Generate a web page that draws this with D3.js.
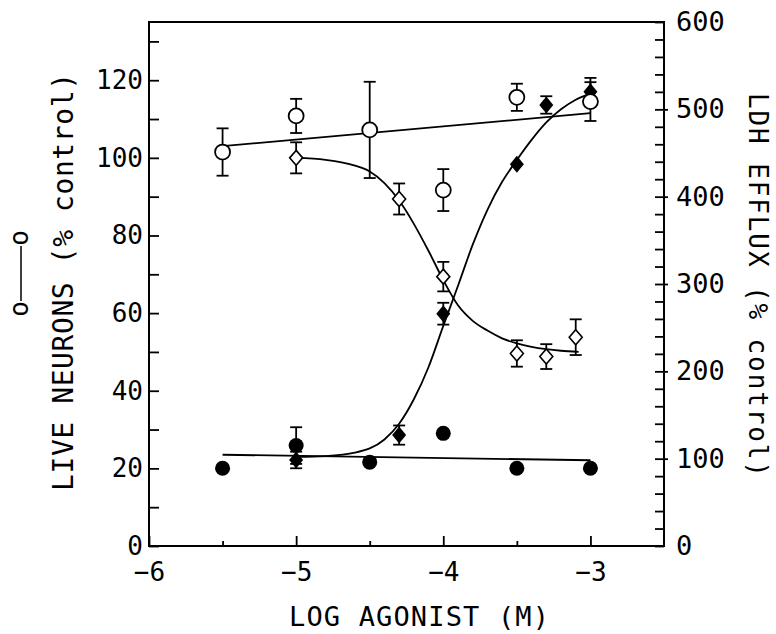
<!DOCTYPE html>
<html>
<head>
<meta charset="utf-8">
<script src="https://cdn.jsdelivr.net/npm/d3@7"></script>
<style>
  html, body { margin: 0; padding: 0; background: #fff; }
  svg { display: block; }
  text { font-family: "DejaVu Sans Mono", monospace; fill: #000; }
</style>
</head>
<body>
<svg id="chart" width="776" height="634"></svg>
<script>
// ---------- data ----------
const xTicksMajor = [-6, -5, -4, -3];
const xTicksMinor = [-5.5, -4.5, -3.5];
const leftTicks = [0, 20, 40, 60, 80, 100, 120];
const rightTicks = [0, 100, 200, 300, 400, 500, 600];

// Live neurons, open circles (left axis, % control)
const xOpenCircle = [-5.5, -5, -4.5, -4, -3.5, -3];
const liveNeurons = [101.5, 110.8, 107.2, 91.7, 115.6, 114.5];
const liveNeuronsErr = [6.1, 4.4, 12.4, 5.4, 3.5, 5];

// Live neurons, open diamonds (left axis, % control)
const xOpenDiamond = [-5, -4.3, -4, -3.5, -3.3, -3.1];
const neuronsDiamond = [100, 89.4, 69.4, 49.6, 48.8, 53.8];
const neuronsDiamondErr = [4, 4, 3.8, 3.4, 3.2, 4.6];

// LDH efflux, filled diamonds (right axis, % control)
const xFilledDiamond = [-5, -4.3, -4, -3.5, -3.3, -3];
const ldhDiamond = [98.5, 127, 266, 437, 505, 520];
const ldhDiamondErr = [9.5, 11, 12.5, 0, 10, 16];

// LDH efflux, filled circles (right axis, % control)
const xFilledCircle = [-5.5, -5, -4.5, -4, -3.5, -3];
const ldhCircle = [89, 115, 96, 129, 89, 89];
const ldhCircleErr = [0, 21, 0, 0, 0, 0];

// fitted lines
const openLineX = [-5.5, -3];
const openLineY = [103, 111.5];            // left axis
const filledLineX = [-5.5, -3];
const filledLineY = [104.5, 98.2];         // right axis

const risingX = [-5.0, -4.8, -4.6, -4.4, -4.3, -4.2, -4.1, -4.0, -3.9, -3.8, -3.7, -3.6, -3.5, -3.4, -3.3, -3.2, -3.1, -3.0];
const risingY = [102, 103, 107, 122, 140, 168, 205, 252, 298, 345, 385, 417, 442, 465, 485, 500, 511, 518]; // right axis
const fallingX = [-5.0, -4.8, -4.6, -4.5, -4.4, -4.3, -4.2, -4.1, -4.0, -3.9, -3.8, -3.7, -3.6, -3.5, -3.4, -3.3, -3.2, -3.08];
const fallingY = [100, 99.5, 98, 96.5, 93.5, 89, 83, 76, 68.5, 62, 58, 55.5, 53.5, 52.2, 51.3, 50.7, 50.3, 50]; // left axis

// ---------- layout ----------
const svg = d3.select("#chart");
const x = d3.scaleLinear().domain([-6, -2.5]).range([149, 664]);
const yL = d3.scaleLinear().domain([0, 135]).range([546, 22]);
const yR = d3.scaleLinear().domain([0, 600]).range([546, 22]);

const SW = 2;

// frame
svg.append("rect")
  .attr("x", x(-6)).attr("y", yL(135))
  .attr("width", x(-2.5) - x(-6)).attr("height", yL(0) - yL(135))
  .attr("fill", "none").attr("stroke", "#000").attr("stroke-width", SW);

function styleAxis(g, size) {
  g.select(".domain").remove();
  g.selectAll(".tick line").attr("stroke", "#000").attr("stroke-width", 1.8);
  g.selectAll(".tick text").attr("font-size", size).attr("fill", "#000")
    .attr("font-family", '"DejaVu Sans Mono", monospace');
}
const fmt = d => String(d).replace("-", "\u2212");

// left axis
const leftAll = d3.range(0, 131, 10);
svg.append("g").attr("transform", `translate(${x(-6)},0)`)
  .call(d3.axisLeft(yL).tickValues(leftAll).tickSize(-10).tickPadding(6)
        .tickFormat(d => leftTicks.includes(d) ? d : ""))
  .call(g => styleAxis(g, 26));

// right axis
const rightAll = d3.range(0, 601, 20);
svg.append("g").attr("transform", `translate(${x(-2.5)},0)`)
  .call(d3.axisRight(yR).tickValues(rightAll).tickSize(-9).tickPadding(12)
        .tickFormat(d => rightTicks.includes(d) ? d : ""))
  .call(g => styleAxis(g, 27));
svg.append("g").attr("transform", `translate(${x(-2.5)},0)`)
  .call(d3.axisRight(yR).tickValues(rightTicks.slice(1, 6)).tickSize(4).tickFormat(""))
  .call(g => styleAxis(g, 27));

// bottom axis
svg.append("g").attr("transform", `translate(0,${yL(0)})`)
  .call(d3.axisBottom(x).tickValues(xTicksMajor).tickSize(-10).tickPadding(17).tickFormat(fmt))
  .call(g => styleAxis(g, 26));
svg.append("g").attr("transform", `translate(0,${yL(0)})`)
  .call(d3.axisBottom(x).tickValues(xTicksMinor).tickSize(-5).tickFormat(""))
  .call(g => styleAxis(g, 26));

// titles
svg.append("text")
  .attr("x", 419).attr("y", 626).attr("text-anchor", "middle")
  .attr("font-size", 27).attr("textLength", 260).attr("lengthAdjust", "spacing")
  .text("LOG AGONIST (M)");
svg.append("text")
  .attr("transform", "translate(73,282) rotate(-90)").attr("text-anchor", "middle")
  .attr("font-size", 28).attr("textLength", 418).attr("lengthAdjust", "spacing")
  .text("LIVE NEURONS (% control)");
svg.append("text")
  .attr("transform", "translate(749,285) rotate(90)").attr("text-anchor", "middle")
  .attr("font-size", 26).attr("textLength", 384).attr("lengthAdjust", "spacing")
  .text("LDH EFFLUX (% control)");

// legend symbol o—o
svg.append("text").attr("transform", "translate(28,238) rotate(-90)")
  .attr("text-anchor", "middle").attr("font-size", 26).text("o");
svg.append("text").attr("transform", "translate(28,309) rotate(-90)")
  .attr("text-anchor", "middle").attr("font-size", 26).text("o");
svg.append("line").attr("x1", 21).attr("x2", 21).attr("y1", 246).attr("y2", 301)
  .attr("stroke", "#000").attr("stroke-width", 1.5);

// ---------- lines ----------
const plot = svg.append("g");
const lineL = d3.line().x(d => x(d[0])).y(d => yL(d[1]));
const lineR = d3.line().x(d => x(d[0])).y(d => yR(d[1]));
const smoothL = d3.line().x(d => x(d[0])).y(d => yL(d[1])).curve(d3.curveMonotoneX);
const smoothR = d3.line().x(d => x(d[0])).y(d => yR(d[1])).curve(d3.curveMonotoneX);

function path(gen, xs, ys) {
  plot.append("path").datum(d3.zip(xs, ys)).attr("d", gen)
    .attr("fill", "none").attr("stroke", "#000").attr("stroke-width", 1.8);
}
path(lineL, openLineX, openLineY);
path(lineR, filledLineX, filledLineY);
path(smoothR, risingX, risingY);
path(smoothL, fallingX, fallingY);

// ---------- error bars ----------
function errBars(xs, ys, es, yScale) {
  const cap = 6;
  xs.forEach((xv, i) => {
    if (!es[i]) return;
    const cx = x(xv), t = yScale(ys[i] + es[i]), b = yScale(ys[i] - es[i]);
    const g = plot.append("g").attr("stroke", "#000").attr("stroke-width", 1.8);
    g.append("line").attr("x1", cx).attr("x2", cx).attr("y1", t).attr("y2", b);
    g.append("line").attr("x1", cx - cap).attr("x2", cx + cap).attr("y1", t).attr("y2", t);
    g.append("line").attr("x1", cx - cap).attr("x2", cx + cap).attr("y1", b).attr("y2", b);
  });
}
errBars(xFilledCircle, ldhCircle, ldhCircleErr, yR);
errBars(xFilledDiamond, ldhDiamond, ldhDiamondErr, yR);
errBars(xOpenDiamond, neuronsDiamond, neuronsDiamondErr, yL);
errBars(xOpenCircle, liveNeurons, liveNeuronsErr, yL);

// ---------- markers ----------
const diamond = (w, h) => `M0,${-h}L${w},0L0,${h}L${-w},0Z`;
plot.selectAll(".fc").data(d3.zip(xFilledCircle, ldhCircle)).join("circle")
  .attr("cx", d => x(d[0])).attr("cy", d => yR(d[1])).attr("r", 7.5).attr("fill", "#000");
plot.selectAll(".fd").data(d3.zip(xFilledDiamond, ldhDiamond)).join("path")
  .attr("transform", d => `translate(${x(d[0])},${yR(d[1])})`)
  .attr("d", diamond(7, 8.5)).attr("fill", "#000");
plot.selectAll(".od").data(d3.zip(xOpenDiamond, neuronsDiamond)).join("path")
  .attr("transform", d => `translate(${x(d[0])},${yL(d[1])})`)
  .attr("d", diamond(6.5, 7.5)).attr("fill", "#fff").attr("stroke", "#000").attr("stroke-width", 1.6);
plot.selectAll(".oc").data(d3.zip(xOpenCircle, liveNeurons)).join("circle")
  .attr("cx", d => x(d[0])).attr("cy", d => yL(d[1])).attr("r", 7.5)
  .attr("fill", "#fff").attr("stroke", "#000").attr("stroke-width", 1.8);
</script>
</body>
</html>
